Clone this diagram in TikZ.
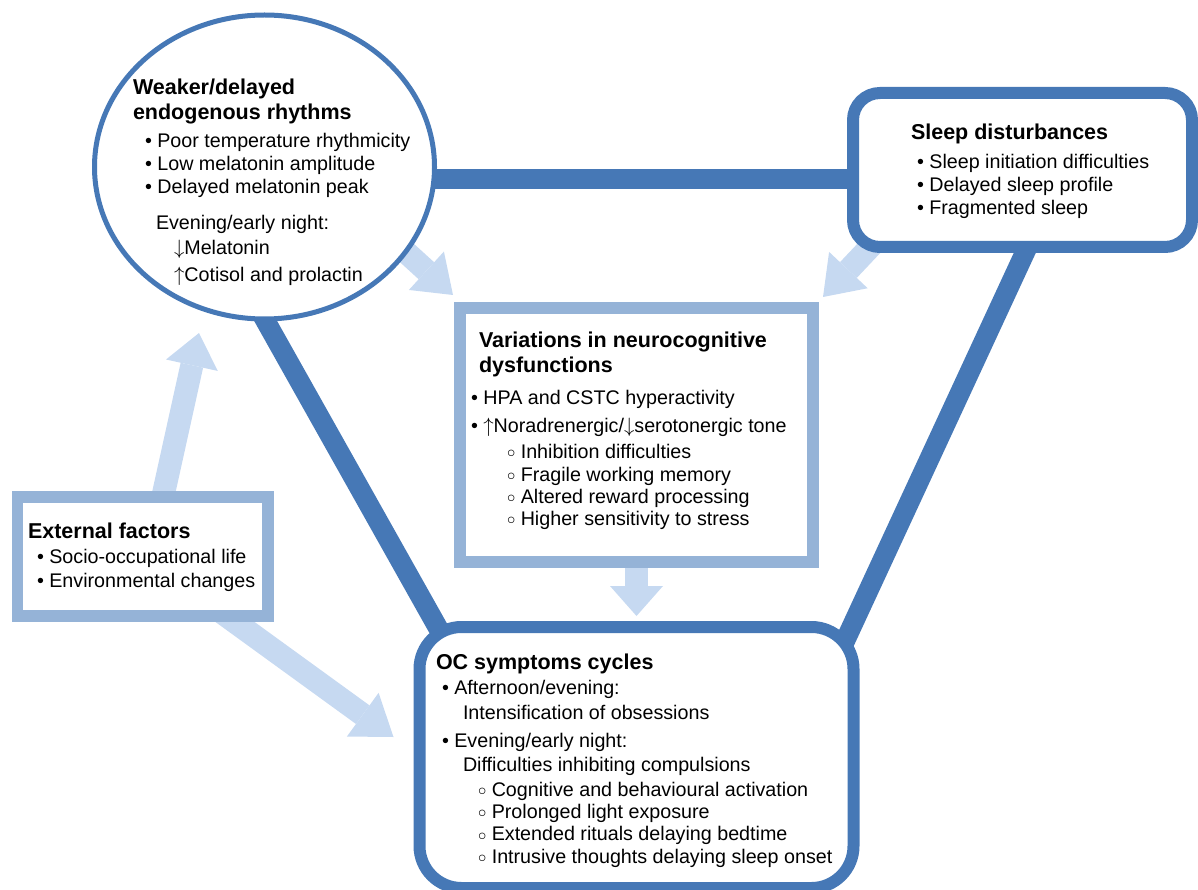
\documentclass[tikz,border=0pt]{standalone}
\usepackage{fontspec}
\setmainfont{Liberation Sans}
\usetikzlibrary{arrows.meta, shapes.geometric, backgrounds}

\definecolor{ocdark}{RGB}{70,120,182}
\definecolor{oclight}{RGB}{149,179,215}
\definecolor{ocpale}{RGB}{198,217,241}
\newcommand{\hollowdot}{\hspace*{36pt}\raisebox{0.6pt}{\scalebox{0.8}{$\circ$}}\ }

\begin{document}
\begin{tikzpicture}[x=1pt,y=-1pt,
  darkbox/.style={draw=ocdark, line width=12pt, fill=white, inner sep=0pt, outer sep=0pt},
  lightbox/.style={draw=oclight, fill=white, inner sep=0pt, outer sep=0pt},
  link/.style={draw=ocdark, line width=20pt},
  flow/.style={draw=ocpale, line width=23pt, -{Triangle[width=53pt,length=33pt,line width=0pt]}},
  txt/.style={inner sep=0pt, outer sep=0pt, anchor=base west, align=left,
    font=\fontsize{19.7pt}{23.3pt}\selectfont},
  ttl/.style={txt, font=\fontsize{21.5pt}{25pt}\selectfont\bfseries}]
  \useasboundingbox (0,0) rectangle (1198,890);

  % the five blocks
  \node[ellipse, draw=ocdark, line width=5pt, fill=white, inner sep=0pt, outer sep=0pt,
    minimum width=340pt, minimum height=304pt] (rhy) at (264.5,167) {};
  \node[darkbox, rounded corners=27pt, minimum width=339pt, minimum height=154pt] (slp) at (1022.5,170) {};
  \node[lightbox, line width=12.5pt, minimum width=353pt, minimum height=254pt] (neu) at (636.5,435) {};
  \node[lightbox, line width=11.5pt, minimum width=250.5pt, minimum height=119pt] (ext) at (142.75,556.5) {};
  \node[darkbox, rounded corners=42pt, minimum width=434pt, minimum height=261pt] (ocs) at (636.5,757.5) {};

  % texts (placed at the baseline of their last line)
  \node[ttl] (rhyT) at (133,120) {Weaker/delayed\\endogenous rhythms};
  \node[txt] (rhyL) at (145,282) {• Poor temperature rhythmicity\\
    • Low melatonin amplitude\\
    • Delayed melatonin peak\\[12.7pt]
    \hspace*{11pt}Evening/early night:\\[1.7pt]
    \hspace*{29pt}$\downarrow$Melatonin\\[3.7pt]
    \hspace*{29pt}$\uparrow$Cotisol and prolactin};

  \node[ttl] (slpT) at (911,140) {Sleep disturbances};
  \node[txt] (slpL) at (917,215) {• Sleep initiation difficulties\\
    • Delayed sleep profile\\
    • Fragmented sleep};

  \node[ttl] (neuT) at (479,372) {Variations in neurocognitive\\dysfunctions};
  \node[txt] (neuL) at (471,525) {• HPA and CSTC hyperactivity\\[4.4pt]
    • $\uparrow$Noradrenergic/$\downarrow$serotonergic tone\\[2.3pt]
    \hollowdot Inhibition difficulties\\
    \hollowdot Fragile working memory\\[-1.5pt]
    \hollowdot Altered reward processing\\[-1.5pt]
    \hollowdot Higher sensitivity to stress};

  \node[ttl] (extT) at (28,538) {External factors};
  \node[txt] (extL) at (37,587) {• Socio-occupational life\\[0.7pt]
    • Environmental changes};

  \node[ttl] (ocsT) at (436,669) {OC symptoms cycles};
  \node[txt] (ocsL) at (442,863) {• Afternoon/evening:\\[1.7pt]
    \hspace*{21pt}Intensification of obsessions\\[4.7pt]
    • Evening/early night:\\[0.7pt]
    \hspace*{21pt}Difficulties inhibiting compulsions\\[1.7pt]
    \hollowdot Cognitive and behavioural activation\\[-1pt]
    \hollowdot Prolonged light exposure\\[-1pt]
    \hollowdot Extended rituals delaying bedtime\\[-1pt]
    \hollowdot Intrusive thoughts delaying sleep onset};

  % connectors, behind the blocks
  \begin{scope}[on background layer]
    \draw[link] (rhy.-4) -- (rhy.-4 -| slp.center);
    \draw[link, shorten <=-20pt, shorten >=-20pt] (rhy.south) -- ([xshift=18pt]ocs.north west);
    \draw[link, shorten <=-20pt, shorten >=-20pt] ([xshift=5pt]slp.south) -- ([xshift=-2pt]ocs.north east);

    \draw[flow, -{Triangle[width=52pt,length=36pt,line width=0pt]}, shorten <=-15pt]
      (rhy.-31) -- ([shift={(-7pt,13pt)}]neu.north west);
    \draw[flow, -{Triangle[width=53pt,length=37pt,line width=0pt]}]
      ([shift={(35pt,19pt)}]slp.south west) -- ([shift={(10pt,11pt)}]neu.north east);
    \draw[flow, -{Triangle[width=53pt,length=30pt,line width=0pt]}]
      (neu.south) -- ([yshift=11pt]ocs.north);
    \draw[flow, shorten <=-10pt] ([xshift=20pt]ext.north) -- ([shift={(-65.5pt,-14pt)}]rhy.south);
    \draw[flow, -{Triangle[width=54pt,length=38pt,line width=0pt]}, shorten <=-10pt]
      ([xshift=84pt]ext.south) -- ([shift={(-26pt,20.5pt)}]ocs.west);
  \end{scope}
\end{tikzpicture}
\end{document}
